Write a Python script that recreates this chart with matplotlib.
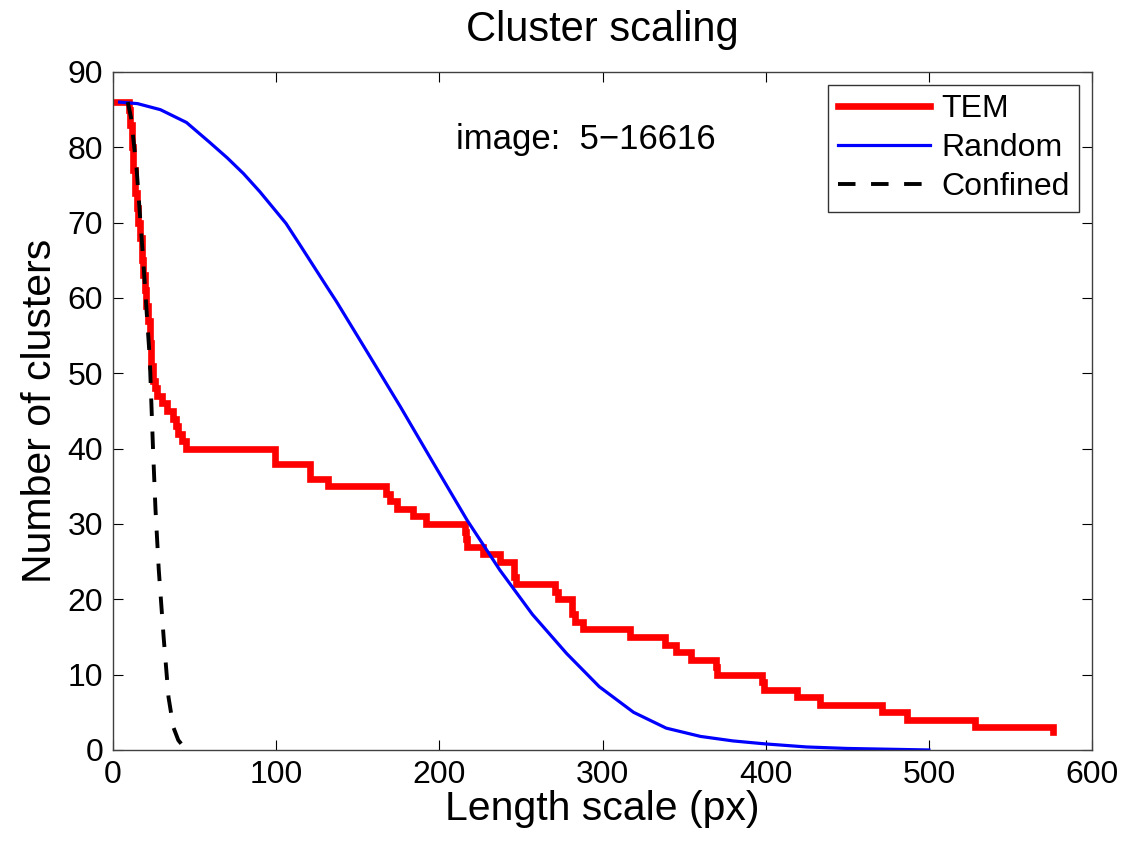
import matplotlib
matplotlib.use("Agg")
import matplotlib.pyplot as plt

plt.rcParams['font.family'] = ['Liberation Sans', 'DejaVu Sans']

# TEM: step curve (x where value changes, value after change)
tem_x = [0, 9.5, 10.5, 11.5, 12.5, 13.5, 14.5, 15.5, 16.5, 17.5, 18.5, 19.5, 20.5,
         21.5, 22.5, 23.5, 24.5, 25.5, 27, 30, 33, 37, 38.5, 40, 42, 45, 99, 120.5,
         132, 167, 170, 174, 184, 192, 215.5, 216.5, 217, 227, 237, 245.5, 247, 271,
         273, 281, 283, 288, 317, 338, 345, 354, 369.5, 370, 397.5, 399, 419, 433.5,
         471, 486.5, 528, 576]
tem_y = [86, 85, 83, 80, 77, 74, 72, 70, 68, 65, 63, 61, 59,
         57, 54, 51, 49, 48, 47, 46, 45, 44, 43, 42, 41, 40, 38, 36,
         35, 34, 33, 32, 31, 30, 29, 28, 27, 26, 25, 23, 22, 21,
         20, 18, 17, 16, 15, 14, 13, 12, 11, 10, 9, 8, 7, 6,
         5, 4, 3, 2.4]

rand_x = [4, 15, 29, 45, 59, 70, 80, 90, 106, 115, 131, 137, 155, 176, 196, 217, 237,
          257, 278, 298, 319, 339, 360, 380, 400, 425, 450, 475, 500]
rand_y = [86, 85.8, 85, 83.3, 80.7, 78.6, 76.5, 74.1, 69.9, 66.9, 61.5, 59.5, 53.1,
          45.6, 38.2, 30.5, 23.9, 18.0, 12.8, 8.4, 5.0, 2.9, 1.8, 1.2, 0.8, 0.4, 0.2,
          0.1, 0]

conf_x = [9, 11, 14.5, 18.5, 22.5, 24.5, 26, 28, 31, 34, 37, 40, 43, 47]
conf_y = [86, 84, 77, 65, 52, 40, 32, 24, 15, 7, 3, 1.3, 0.5, 0]

fig = plt.figure(figsize=(11.27, 8.42), dpi=100)
ax = fig.add_axes([0.1003, 0.1093, 0.8687, 0.8052])

ax.plot(tem_x, tem_y, color='#ff0000', lw=4.8, drawstyle='steps-post', label='TEM',
        solid_joinstyle='miter')
ax.plot(rand_x, rand_y, color='#0000ff', lw=2.3, label='Random')
ax.plot(conf_x, conf_y, color='black', lw=2.8, ls=(0, (4.5, 4.0)), label='Confined')

ax.set_xlim(0, 600)
ax.set_ylim(0, 90)
ax.set_xticks(range(0, 601, 100))
ax.set_yticks(range(0, 91, 10))
ax.tick_params(direction='in', length=7, labelsize=23, top=True, right=True, pad=7)
for s in ax.spines.values():
    s.set_color('#404040')
    s.set_linewidth(1.0)

ax.set_title('Cluster scaling', fontsize=30, pad=22)
ax.set_xlabel('Length scale (px)', fontsize=29.5, labelpad=0)
ax.set_ylabel('Number of clusters', fontsize=29.5, labelpad=6)

ax.text(210, 81, 'image:  5\u221216616', fontsize=25, va='center', ha='left')

leg = ax.legend(loc='upper right', fontsize=23, frameon=True, fancybox=False,
                edgecolor='black', handlelength=2.9, borderaxespad=0.4,
                labelspacing=0.28, handletextpad=0.35, borderpad=0.3)
leg.get_frame().set_linewidth(1.0)

fig.savefig('out.png', dpi=100, facecolor='white')
